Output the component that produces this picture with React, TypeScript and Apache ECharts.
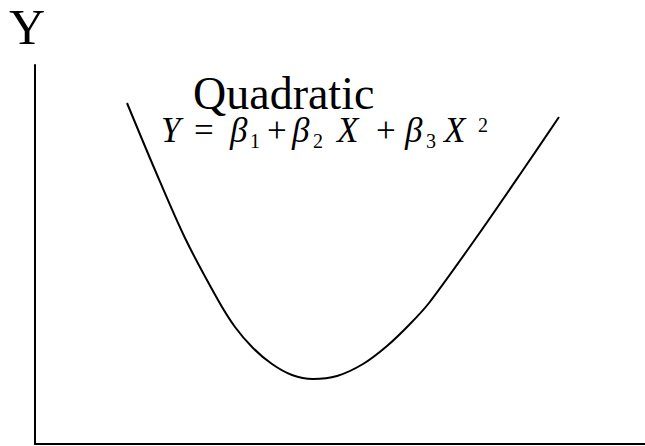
import React, { useEffect, useRef } from "react";
import * as echarts from "echarts";

// Curve (x: distance from the Y axis, y: height above the X axis)
const curveX = [92, 120, 150, 183, 200, 218, 237, 257, 278, 302, 328, 352, 375, 394, 441, 488, 524];
const curveY = [341, 274, 206, 144, 117, 96, 80, 69, 65, 68, 80, 98, 120, 141, 206, 274, 327];

const axisTitle = "Y";
const chartTitle = "Quadratic";

const SERIF = "'Liberation Serif', 'Times New Roman', serif";

export default function App() {
  const ref = useRef<HTMLDivElement>(null);

  useEffect(() => {
    if (!ref.current) return;
    const chart = echarts.init(ref.current, undefined, { renderer: "svg" });
    const data = curveX.map((x, i) => [x, curveY[i]]);

    const txt = (text: string, x: number, baseline: number, size: number, italic: boolean) => ({
      type: "text",
      x,
      y: baseline - size * 0.34,
      style: {
        text,
        font: `${italic ? "italic " : ""}${size}px ${SERIF}`,
        lineHeight: size,
        fill: "#000",
        textAlign: "left",
        textVerticalAlign: "middle",
      },
    });

    chart.setOption({
      animation: false,
      backgroundColor: "#fff",
      grid: { left: 35, right: 0, top: 65, bottom: 2 },
      xAxis: {
        type: "value",
        min: 0,
        max: 610,
        axisLine: { show: true, onZero: false, lineStyle: { color: "#000", width: 2 } },
        axisTick: { show: false },
        axisLabel: { show: false },
        splitLine: { show: false },
      },
      yAxis: {
        type: "value",
        min: 0,
        max: 379,
        axisLine: { show: true, onZero: false, lineStyle: { color: "#000", width: 2 } },
        axisTick: { show: false },
        axisLabel: { show: false },
        splitLine: { show: false },
      },
      series: [
        {
          type: "line",
          data,
          smooth: 0.3,
          showSymbol: false,
          lineStyle: { color: "#000", width: 2 },
        },
      ],
      graphic: [
        txt(axisTitle, 9, 44, 50, false),
        txt(chartTitle, 193, 109, 46, false),
        txt("Y", 161, 142, 35, true),
        txt("=", 194, 142, 35, false),
        txt("β", 230, 142, 35, true),
        txt("1", 250, 148, 20, false),
        txt("+", 267, 142, 35, false),
        txt("β", 292, 142, 35, true),
        txt("2", 313, 148, 20, false),
        txt("X", 337, 142, 35, true),
        txt("+", 376, 142, 35, false),
        txt("β", 405, 142, 35, true),
        txt("3", 426, 148, 20, false),
        txt("X", 444, 142, 35, true),
        txt("2", 478, 132, 20, false),
      ],
    });
    return () => chart.dispose();
  }, []);

  return (
    <div
      ref={ref}
      style={{ position: "absolute", left: 0, top: 0, width: 645, height: 446 }}
    />
  );
}
